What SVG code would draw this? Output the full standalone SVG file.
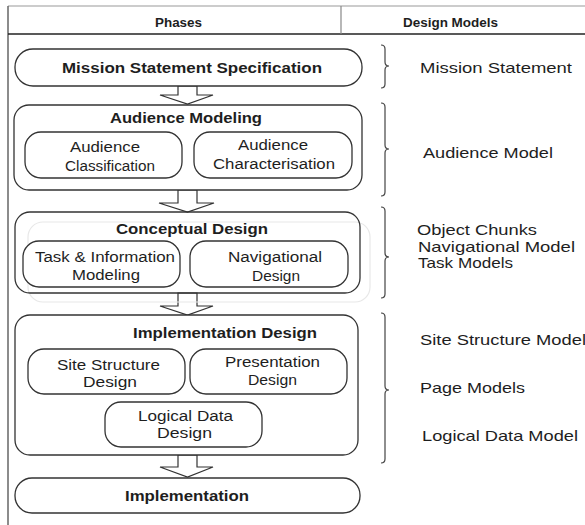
<svg xmlns="http://www.w3.org/2000/svg" width="585" height="525" viewBox="0 0 585 525">
<style>
text{font-family:"Liberation Sans",Arial,sans-serif;fill:#1e1e1e}
.h{font-size:12.5px;font-weight:bold}
.t{font-size:14px;font-weight:bold}
.s{font-size:14px}
.r{font-size:14.5px}
.box{fill:#fff;stroke:#333;stroke-width:1.3}
.ghost{fill:none;stroke:#e8e8e8;stroke-width:1.2}
.arrow{fill:#fff;stroke:#333;stroke-width:1.2;stroke-linejoin:miter}
.brace{fill:none;stroke:#444;stroke-width:1.2}
</style>
<rect width="585" height="525" fill="#fff"/>
<g id="table">
<line x1="8" y1="6" x2="585" y2="6" stroke="#999" stroke-width="1"/>
<line x1="8" y1="6" x2="8" y2="525" stroke="#666" stroke-width="1.5"/>
<line x1="8" y1="34" x2="585" y2="34" stroke="#222" stroke-width="1.3"/>
<line x1="341" y1="6" x2="341" y2="34" stroke="#888" stroke-width="1.2"/>
<text class="h" x="155" y="27" textLength="47" lengthAdjust="spacingAndGlyphs">Phases</text>
<text class="h" x="403" y="27" textLength="95" lengthAdjust="spacingAndGlyphs">Design Models</text>
</g>
<g id="connectors">
<polygon class="arrow" points="178,86 197,86 197,95 213,95 187.5,104 160,95 178,95"/>
<polygon class="arrow" points="178,190 197,190 197,203 214,203 187.5,212 159,203 178,203"/>
<polygon class="arrow" points="178,293 197,293 197,306 213,306 187.5,315 160,306 178,306"/>
<polygon class="arrow" points="178,455 197,455 197,467 213,467 187.5,477 160,467 178,467"/>
</g>
<g id="mission">
<rect class="box" x="15" y="49" width="347" height="37" rx="18"/>
<text class="t" x="62" y="72.5" textLength="260" lengthAdjust="spacingAndGlyphs">Mission Statement Specification</text>
</g>
<g id="audience-modeling">
<rect class="box" x="14" y="105" width="348" height="85" rx="15"/>
<text class="t" x="110" y="122.5" textLength="152" lengthAdjust="spacingAndGlyphs">Audience Modeling</text>
</g>
<g id="audience-classification">
<rect class="box" x="25" y="132" width="157" height="46" rx="16"/>
<text class="s" x="70" y="152" textLength="70" lengthAdjust="spacingAndGlyphs">Audience</text>
<text class="s" x="65" y="171" textLength="90" lengthAdjust="spacingAndGlyphs">Classification</text>
</g>
<g id="audience-characterisation">
<rect class="box" x="194" y="132" width="158" height="46" rx="16"/>
<text class="s" x="238" y="150" textLength="70" lengthAdjust="spacingAndGlyphs">Audience</text>
<text class="s" x="213" y="169" textLength="122" lengthAdjust="spacingAndGlyphs">Characterisation</text>
</g>
<g id="conceptual-design">
<rect class="ghost" x="28" y="222" width="342" height="80" rx="15"/>
<rect class="box" x="15" y="212" width="345" height="81" rx="15" fill-opacity="0"/>
<text class="t" x="116" y="233.5" textLength="152" lengthAdjust="spacingAndGlyphs">Conceptual Design</text>
</g>
<g id="task-information-modeling">
<rect class="box" x="23" y="241" width="157" height="46" rx="16"/>
<text class="s" x="35" y="262" textLength="140" lengthAdjust="spacingAndGlyphs">Task &amp; Information</text>
<text class="s" x="72" y="280" textLength="68" lengthAdjust="spacingAndGlyphs">Modeling</text>
</g>
<g id="navigational-design">
<rect class="box" x="190" y="241" width="158" height="46" rx="16"/>
<text class="s" x="228" y="262" textLength="94" lengthAdjust="spacingAndGlyphs">Navigational</text>
<text class="s" x="252" y="281" textLength="48" lengthAdjust="spacingAndGlyphs">Design</text>
</g>
<g id="implementation-design">
<rect class="box" x="15" y="315" width="343" height="140" rx="15"/>
<text class="t" x="133" y="337.5" textLength="184" lengthAdjust="spacingAndGlyphs">Implementation Design</text>
</g>
<g id="site-structure-design">
<rect class="box" x="28" y="349" width="157" height="45" rx="16"/>
<text class="s" x="57" y="370" textLength="103" lengthAdjust="spacingAndGlyphs">Site Structure</text>
<text class="s" x="83" y="387" textLength="54" lengthAdjust="spacingAndGlyphs">Design</text>
</g>
<g id="presentation-design">
<rect class="box" x="190" y="349" width="157" height="45" rx="16"/>
<text class="s" x="225" y="367" textLength="95" lengthAdjust="spacingAndGlyphs">Presentation</text>
<text class="s" x="248" y="385" textLength="49" lengthAdjust="spacingAndGlyphs">Design</text>
</g>
<g id="logical-data-design">
<rect class="box" x="105" y="402" width="157" height="45" rx="16"/>
<text class="s" x="138" y="421" textLength="95" lengthAdjust="spacingAndGlyphs">Logical Data</text>
<text class="s" x="157" y="438" textLength="55" lengthAdjust="spacingAndGlyphs">Design</text>
</g>
<g id="implementation">
<rect class="box" x="15" y="478" width="345" height="35" rx="17"/>
<text class="t" x="125" y="500.5" textLength="124" lengthAdjust="spacingAndGlyphs">Implementation</text>
</g>
<g id="braces">
<path class="brace" d="M381 45 Q385 45 385 49 L385 62 Q385 66 389 66 Q385 66 385 70 L385 84 Q385 88 381 88"/>
<path class="brace" d="M381 103 Q385 103 385 107 L385 145 Q385 149 389 149 Q385 149 385 153 L385 192 Q385 196 381 196"/>
<path class="brace" d="M381 207 Q385 207 385 211 L385 253 Q385 257 389 257 Q385 257 385 261 L385 294 Q385 298 381 298"/>
<path class="brace" d="M381 313 Q385 313 385 317 L385 386 Q385 390 389 390 Q385 390 385 394 L385 459 Q385 463 381 463"/>
</g>
<g id="models">
<text class="r" x="420" y="73" textLength="152" lengthAdjust="spacingAndGlyphs">Mission Statement</text>
<text class="r" x="423" y="158" textLength="130" lengthAdjust="spacingAndGlyphs">Audience Model</text>
<text class="r" x="417" y="235" textLength="120" lengthAdjust="spacingAndGlyphs">Object Chunks</text>
<text class="r" x="418" y="252" textLength="157" lengthAdjust="spacingAndGlyphs">Navigational Model</text>
<text class="r" x="418" y="268" textLength="95" lengthAdjust="spacingAndGlyphs">Task Models</text>
<text class="r" x="420" y="345" textLength="166" lengthAdjust="spacingAndGlyphs">Site Structure Model</text>
<text class="r" x="420" y="393" textLength="105" lengthAdjust="spacingAndGlyphs">Page Models</text>
<text class="r" x="422" y="441" textLength="156" lengthAdjust="spacingAndGlyphs">Logical Data Model</text>
</g>
</svg>
